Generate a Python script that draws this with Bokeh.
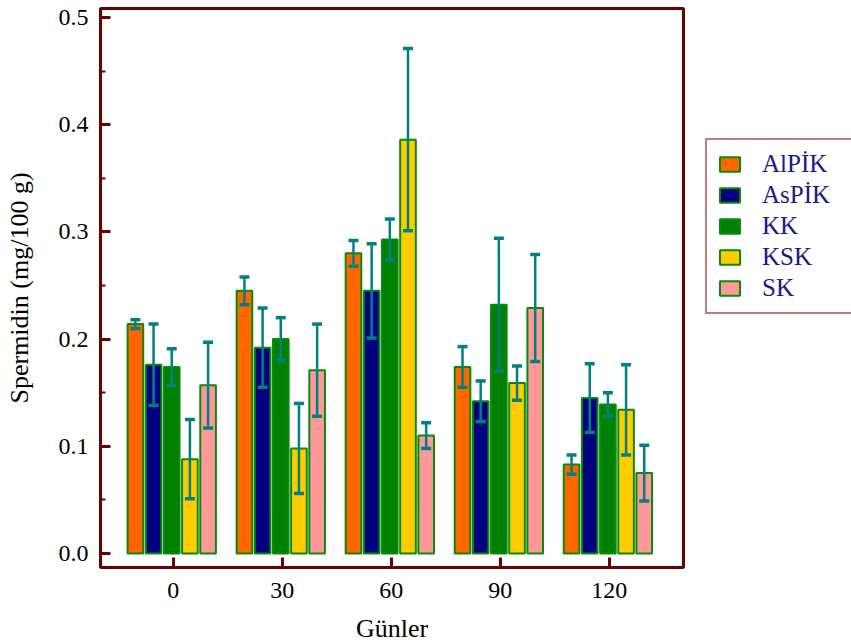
from bokeh.plotting import figure
from bokeh.models import (ColumnDataSource, Whisker, TeeHead, FixedTicker,
                          PrintfTickFormatter, Legend, LegendItem, Range1d)
from bokeh.embed import file_html
from bokeh.resources import INLINE

days = [0, 30, 60, 90, 120]
series = ["AlPİK", "AsPİK", "KK", "KSK", "SK"]
alpik = [0.214, 0.245, 0.280, 0.174, 0.083]
alpik_err = [0.004, 0.013, 0.012, 0.019, 0.009]
aspik = [0.176, 0.192, 0.245, 0.142, 0.145]
aspik_err = [0.038, 0.037, 0.044, 0.019, 0.032]
kk = [0.174, 0.200, 0.293, 0.232, 0.139]
kk_err = [0.017, 0.020, 0.019, 0.062, 0.011]
ksk = [0.088, 0.098, 0.386, 0.159, 0.134]
ksk_err = [0.037, 0.042, 0.085, 0.016, 0.042]
sk = [0.157, 0.171, 0.110, 0.229, 0.075]
sk_err = [0.040, 0.043, 0.012, 0.050, 0.026]
y_ticks = [0.0, 0.1, 0.2, 0.3, 0.4, 0.5]

values = [alpik, aspik, kk, ksk, sk]
errors = [alpik_err, aspik_err, kk_err, ksk_err, sk_err]
colors = ["#FF6600", "#000080", "#008000", "#FFCC00", "#FF9999"]
offsets = [-10.4, -5.4, -0.4, 4.6, 9.6]

FONT = "Liberation Serif"
MAROON = "#6B0000"
TEAL = "#008080"

p = figure(frame_width=583, frame_height=559, min_border_left=100,
           min_border_right=168, min_border_top=8, min_border_bottom=77,
           x_range=Range1d(-20, 140.4), y_range=Range1d(-0.01306, 0.5084),
           output_backend="svg", toolbar_location=None)
p.xgrid.visible = False
p.ygrid.visible = False
p.outline_line_color = MAROON
p.outline_line_width = 3
p.background_fill_color = "white"
p.border_fill_color = "white"

items = []
for name, vals, errs, col, off in zip(series, values, errors, colors, offsets):
    xs = [d + off for d in days]
    src = ColumnDataSource(dict(x=xs, top=vals,
                                upper=[v + e for v, e in zip(vals, errs)],
                                lower=[v - e for v, e in zip(vals, errs)]))
    r = p.vbar(x="x", top="top", bottom=0, width=4.3, source=src,
               fill_color=col, line_color="#0A8A0A", line_width=2)
    items.append(LegendItem(label=name, renderers=[r]))
    w = Whisker(base="x", upper="upper", lower="lower", dimension="height",
                source=src, line_color=TEAL, line_width=2.5, level="overlay",
                upper_head=TeeHead(size=10, line_color=TEAL, line_width=3.5),
                lower_head=TeeHead(size=10, line_color=TEAL, line_width=3.5))
    p.add_layout(w)

# axes
for ax in (p.xaxis[0], p.yaxis[0]):
    ax.axis_line_color = None
    ax.major_tick_line_color = MAROON
    ax.major_tick_line_width = 3
    ax.minor_tick_line_color = MAROON
    ax.minor_tick_line_width = 2
    ax.major_tick_in = 10
    ax.major_tick_out = 0
    ax.minor_tick_in = 5
    ax.minor_tick_out = 0
    ax.major_label_text_font = FONT
    ax.major_label_text_font_size = "24px"
    ax.major_label_text_color = "black"
    ax.axis_label_text_font = FONT
    ax.axis_label_text_font_size = "26px"
    ax.axis_label_text_font_style = "normal"
    ax.axis_label_text_color = "black"

p.xaxis.ticker = FixedTicker(ticks=days, minor_ticks=[])
p.xaxis.axis_label = "Günler"
p.xaxis.major_label_standoff = 15
p.xaxis.axis_label_standoff = 13

p.yaxis.ticker = FixedTicker(ticks=y_ticks,
                             minor_ticks=[0.05, 0.15, 0.25, 0.35, 0.45])
p.yaxis.formatter = PrintfTickFormatter(format="%.1f")
p.yaxis.axis_label = "Spermidin (mg/100 g)"
p.yaxis.major_label_standoff = 12
p.yaxis.axis_label_standoff = 22

legend = Legend(items=items, location=(22, 253))
legend.border_line_color = MAROON
legend.border_line_width = 2
legend.background_fill_color = "white"
legend.background_fill_alpha = 1
legend.label_text_font = FONT
legend.label_text_font_size = "25px"
legend.label_text_color = "#1A1A8A"
legend.glyph_width = 25
legend.glyph_height = 18
legend.label_height = 20
legend.label_width = 90
legend.spacing = 3
legend.padding = 10
legend.label_standoff = 20
legend.margin = 0
p.add_layout(legend, "right")

open("out.html", "w").write(file_html(p, INLINE))
